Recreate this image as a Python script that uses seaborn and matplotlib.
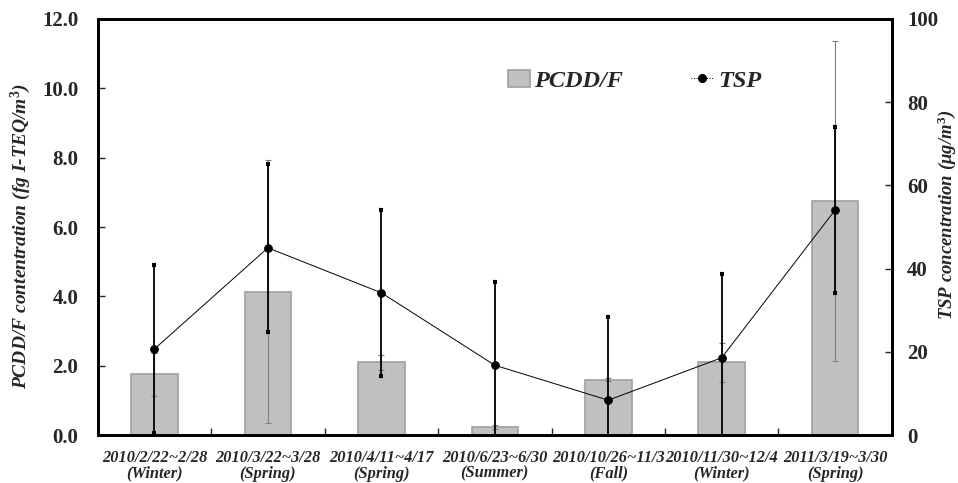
import numpy as np
import seaborn as sns
import matplotlib.pyplot as plt
from matplotlib.patches import Patch
from matplotlib.lines import Line2D

periods = ["2010/2/22~2/28", "2010/3/22~3/28", "2010/4/11~4/17", "2010/6/23~6/30",
           "2010/10/26~11/3", "2010/11/30~12/4", "2011/3/19~3/30"]
seasons = ["Winter", "Spring", "Spring", "Summer", "Fall", "Winter", "Spring"]
pcdd = [1.75, 4.13, 2.10, 0.24, 1.60, 2.10, 6.75]
pcdd_err = [0.63, 3.79, 0.21, 0.05, 0.05, 0.56, 4.60]
tsp = [20.7, 45.0, 34.2, 16.8, 8.4, 18.6, 54.1]
tsp_err = [20.1, 20.2, 20.0, 19.9, 20.1, 20.2, 20.0]

labels = [f"{p}\n({s})" for p, s in zip(periods, seasons)]

sns.set_style("ticks")
plt.rcParams['font.family'] = ['Liberation Serif', 'DejaVu Serif']
plt.rcParams['mathtext.fontset'] = 'custom'
plt.rcParams['mathtext.it'] = 'Liberation Serif:italic:bold'
plt.rcParams['mathtext.rm'] = 'Liberation Serif:bold'

fig, ax1 = plt.subplots(figsize=(9.58, 4.83), dpi=100)
fig.subplots_adjust(left=0.102, right=0.931, top=0.961, bottom=0.099)

x = np.arange(len(labels))
sns.barplot(x=x, y=pcdd, ax=ax1, color="#c0c0c0", width=0.41,
            edgecolor="#a0a0a0", linewidth=1.2, errorbar=None, saturation=1)
ax1.errorbar(x, pcdd, yerr=pcdd_err, fmt="none", ecolor="#7f7f7f",
             elinewidth=0.8, capsize=2, capthick=0.8, zorder=3)

ax2 = ax1.twinx()
ax2.errorbar(x, tsp, yerr=tsp_err, fmt="none", ecolor="black",
             elinewidth=1.3, capsize=1.3, capthick=3, zorder=4)
sns.lineplot(x=x, y=tsp, ax=ax2, color="black", linewidth=0.7,
             marker="o", markersize=5.5, markeredgecolor="black", zorder=5)

ax1.set_xlim(-0.5, len(labels) - 0.5)
ax1.set_ylim(0, 12)
ax2.set_ylim(0, 100)
ax1.set_yticks(np.arange(0, 12.1, 2))
ax1.set_yticklabels([f"{v:.1f}" for v in np.arange(0, 12.1, 2)])
ax2.set_yticks(np.arange(0, 101, 20))

ax1.set_xticks(x)
ax1.set_xticklabels(labels, fontsize=11.8, fontweight="bold", fontstyle="italic",
                    linespacing=0.95)
ax1.set_xticks(np.arange(0.5, len(labels) - 1, 1), minor=True)
ax1.tick_params(axis="x", which="major", length=0, pad=11)
ax1.tick_params(axis="x", which="minor", direction="in", length=5, width=1)
ax1.tick_params(axis="y", direction="in", length=5, width=1, labelsize=15, pad=14)
ax2.tick_params(axis="y", direction="in", length=5, width=1, labelsize=15, pad=11)
for lab in ax1.get_yticklabels() + ax2.get_yticklabels():
    lab.set_fontweight("bold")

for ax in (ax1, ax2):
    for sp in ax.spines.values():
        sp.set_visible(True)
        sp.set_linewidth(2)
        sp.set_color("black")

ax1.set_ylabel("PCDD/F contentration (fg I-TEQ/m$^{3}$)", fontsize=14,
               fontweight="bold", fontstyle="italic")
ax2.set_ylabel("TSP concentration ($\\mu$g/m$^{3}$)", fontsize=13.5,
               fontweight="bold", fontstyle="italic")
ax1.yaxis.set_label_coords(-0.081, 0.478)
ax2.yaxis.set_label_coords(1.055, 0.529)

handles = [Patch(facecolor="#c0c0c0", edgecolor="#a0a0a0", linewidth=1.2),
           Line2D([], [], color="black", linewidth=0.7, linestyle=":",
                  marker="o", markersize=5.5)]
ax2.legend(handles, ["PCDD/F", "TSP"], loc="center", bbox_to_anchor=(0.676, 0.851),
           ncol=2, frameon=False, handlelength=0.9, handletextpad=0.2,
           columnspacing=2.8, prop={"size": 17.5, "weight": "bold", "style": "italic"})

plt.savefig("out.png", dpi=100)
